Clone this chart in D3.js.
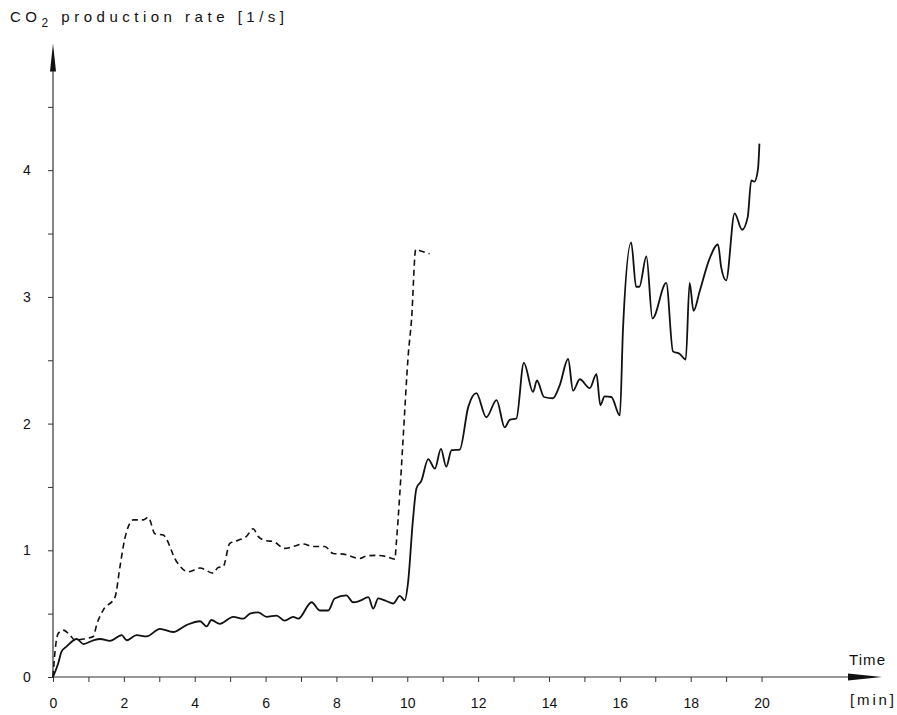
<!DOCTYPE html>
<html><head><meta charset="utf-8">
<script src="https://cdn.jsdelivr.net/npm/d3@7"></script>
<style>body{margin:0;background:#fff}svg{display:block}text{font-family:"Liberation Sans","DejaVu Sans",sans-serif;fill:#111}</style>
</head><body>
<script>
// Time [min] and CO2 production rate [1/s], solid curve
const solidTime = [0,0.15,0.24,0.38,0.67,0.86,1.14,1.33,1.61,1.94,2.08,2.36,2.64,3.02,3.39,3.77,4.15,4.34,4.47,4.71,5.09,5.37,5.56,5.79,6.03,6.31,6.54,6.78,6.92,7.30,7.53,7.77,7.95,8.28,8.47,8.65,8.90,9.04,9.18,9.41,9.60,9.79,9.93,10.02,10.16,10.26,10.40,10.59,10.78,10.95,11.10,11.25,11.48,11.72,11.95,12.23,12.52,12.75,12.89,13.08,13.29,13.55,13.66,13.86,14.11,14.30,14.54,14.68,14.87,15.15,15.34,15.45,15.57,15.76,16.00,16.09,16.32,16.46,16.55,16.75,16.92,17.31,17.50,17.69,17.86,17.97,18.08,18.25,18.53,18.77,18.86,19.00,19.24,19.45,19.61,19.71,19.80,19.90,19.94];
const solidRate = [0,0.11,0.20,0.24,0.30,0.26,0.29,0.30,0.285,0.33,0.29,0.33,0.32,0.38,0.355,0.41,0.44,0.40,0.45,0.42,0.475,0.46,0.50,0.51,0.475,0.485,0.445,0.475,0.46,0.59,0.525,0.525,0.62,0.645,0.59,0.60,0.63,0.54,0.62,0.60,0.58,0.64,0.605,0.74,1.24,1.49,1.55,1.72,1.645,1.80,1.66,1.79,1.795,2.13,2.24,2.05,2.185,1.97,2.03,2.04,2.48,2.25,2.34,2.21,2.20,2.30,2.51,2.26,2.35,2.28,2.39,2.145,2.215,2.21,2.065,2.75,3.43,3.08,3.08,3.32,2.83,3.11,2.57,2.55,2.505,3.11,2.89,3.04,3.30,3.415,3.235,3.13,3.66,3.53,3.63,3.92,3.91,4.01,4.21];
// dashed curve
const dashedTime = [0,0.06,0.15,0.29,0.48,0.62,0.86,1.14,1.23,1.42,1.75,1.89,2.03,2.27,2.55,2.69,2.88,3.11,3.49,3.82,4.15,4.52,4.66,4.80,4.99,5.23,5.46,5.65,5.79,6.03,6.21,6.54,6.78,7.06,7.34,7.67,7.91,8.19,8.66,8.84,9.13,9.41,9.65,9.69,9.79,9.88,10.03,10.12,10.24,10.40,10.63];
const dashedRate = [0,0.21,0.345,0.37,0.33,0.29,0.30,0.32,0.41,0.53,0.63,0.87,1.095,1.24,1.24,1.26,1.13,1.12,0.91,0.83,0.86,0.82,0.865,0.87,1.055,1.08,1.11,1.17,1.11,1.075,1.07,1.015,1.03,1.05,1.03,1.03,0.975,0.97,0.935,0.955,0.96,0.95,0.93,1.055,1.45,1.87,2.55,2.82,3.375,3.36,3.34];
const xTickValues = d3.range(0, 21, 1);
const xTickLabels = [0,2,4,6,8,10,12,14,16,18,20];
const yTickValues = d3.range(0, 4.51, 0.5);
const yTickLabels = [0,1,2,3,4];
const yTitleParts = ["CO", "2", " production rate [1/s]"];
const xTitle = "Time";
const xUnit = "[min]";

const W = 897, H = 715;
const svg = d3.select("body").append("svg").attr("width", W).attr("height", H);
const x = d3.scaleLinear().domain([0, 23.4]).range([53, 882]);
const y = d3.scaleLinear().domain([0, 5]).range([677, 43.5]);
const ink = "#111";

// axes lines
svg.append("line").attr("x1", x(0)).attr("x2", x(23.4) - 10).attr("y1", y(0)).attr("y2", y(0))
  .attr("stroke", "#333").attr("stroke-width", 1.2);
svg.append("line").attr("x1", x(0)).attr("x2", x(0)).attr("y1", y(0)).attr("y2", y(5) + 10)
  .attr("stroke", "#333").attr("stroke-width", 1.2);
// arrowheads
svg.append("path").attr("fill", ink)
  .attr("d", `M${x(23.4)},${y(0)} L${x(23.4) - 34},${y(0) - 3.5} L${x(23.4) - 34},${y(0) + 3.5}Z`);
svg.append("path").attr("fill", ink)
  .attr("d", `M${x(0)},${y(5)} L${x(0) - 3},${y(5) + 28} L${x(0) + 3},${y(5) + 28}Z`);

// x ticks
const xAxis = d3.axisBottom(x).tickValues(xTickValues).tickSize(5).tickPadding(16)
  .tickFormat(d => xTickLabels.includes(d) ? String(d) : "");
const gx = svg.append("g").attr("transform", `translate(0,${y(0)})`).call(xAxis);
gx.select(".domain").remove();
gx.selectAll("line").attr("stroke", "#333");
gx.selectAll("text").attr("font-size", 14).attr("fill", ink).style("font-family", "'Liberation Sans',sans-serif");

// y ticks
const yAxis = d3.axisLeft(y).tickValues(yTickValues).tickSize(5).tickPadding(20)
  .tickFormat(d => yTickLabels.includes(d) ? String(d) : "");
const gy = svg.append("g").attr("transform", `translate(${x(0)},0)`).call(yAxis);
gy.select(".domain").remove();
gy.selectAll("line").attr("stroke", "#333");
gy.selectAll("text").attr("font-size", 14).attr("fill", ink).attr("text-anchor", "middle").attr("x", -26)
  .style("font-family", "'Liberation Sans',sans-serif");

// titles
const tt = svg.append("text").attr("x", 10).attr("y", 22).attr("font-size", 15)
  .attr("textLength", 274).attr("lengthAdjust", "spacing");
tt.append("tspan").text(yTitleParts[0]);
tt.append("tspan").attr("dy", 5).attr("font-size", 12).text(yTitleParts[1]);
tt.append("tspan").attr("dy", -5).text(yTitleParts[2]);
svg.append("text").attr("x", 867).attr("y", 665).attr("font-size", 15).attr("text-anchor", "middle")
  .attr("textLength", 36).attr("lengthAdjust", "spacing").text(xTitle);
svg.append("text").attr("x", 872).attr("y", 705).attr("font-size", 15).attr("text-anchor", "middle")
  .attr("textLength", 44).attr("lengthAdjust", "spacing").text(xUnit);

// curves
const line = d3.line().x(d => x(d[0])).y(d => y(d[1])).curve(d3.curveMonotoneX);
svg.append("path").datum(dashedTime.map((t, i) => [t, dashedRate[i]]))
  .attr("d", line).attr("fill", "none").attr("stroke", ink).attr("stroke-width", 1.6)
  .attr("stroke-dasharray", "6,4");
svg.append("path").datum(solidTime.map((t, i) => [t, solidRate[i]]))
  .attr("d", line).attr("fill", "none").attr("stroke", ink).attr("stroke-width", 1.8)
  .attr("stroke-linejoin", "round");
</script>
</body></html>
